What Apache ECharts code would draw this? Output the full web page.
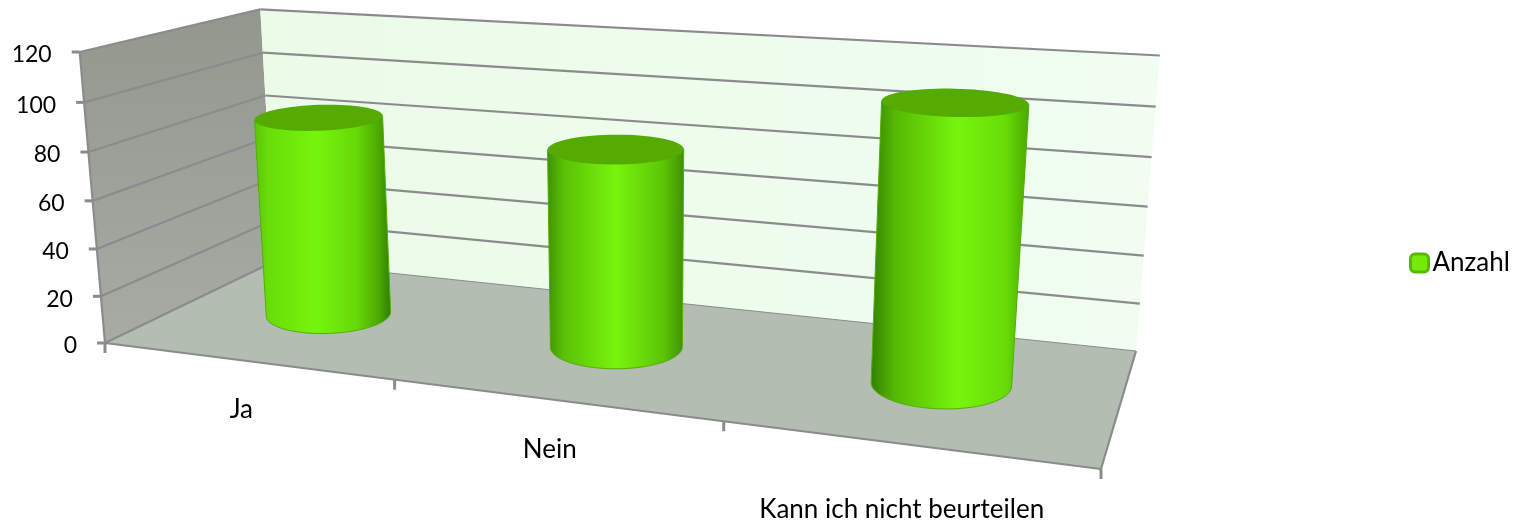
<!DOCTYPE html>
<html><head><meta charset="utf-8">
<style>html,body{margin:0;padding:0;background:#fff}#c{width:1523px;height:520px}</style>
<script src="https://cdn.jsdelivr.net/npm/echarts@6/dist/echarts.min.js"></script>
</head><body><div id="c"></div>
<script>
const categories = ['Ja', 'Nein', 'Kann ich nicht beurteilen'];
const values = [86, 82, 109];
const yTicks = [0, 20, 40, 60, 80, 100, 120];
const seriesName = 'Anzahl';

// ---- layout of the 3D box in the picture ----
const FONT = 'Lato';
const FL = [105, 343], FR = [1101, 469], BR = [1136, 351], BL = [275, 261];
const VP = [640, 6500], TOP_FL_Y = 52;
const RX = 0.072, RZ = 0.225, CZ = 0.5, TILT = 0.087, RX_FLATTEN = 0.18;
const LABEL_DX = -4, LABEL_DY = [49, 50, 65];
const SHADE = [
  [[0, '#5cc406'], [0.1, '#68dc08'], [0.45, '#76f50c'], [0.75, '#66d808'], [0.92, '#4aa600'], [1, '#2f7c00']],
  [[0, '#3f9000'], [0.12, '#5ac006'], [0.5, '#76f50c'], [0.85, '#5cc406'], [1, '#3f8f00']],
  [[0, '#338000'], [0.15, '#55b804'], [0.55, '#76f50c'], [0.85, '#68dc08'], [1, '#4aa600']]
];

function homography(p0, p1, p2, p3) {
  const dx1 = p1[0] - p2[0], dx2 = p3[0] - p2[0], sx = p0[0] - p1[0] + p2[0] - p3[0];
  const dy1 = p1[1] - p2[1], dy2 = p3[1] - p2[1], sy = p0[1] - p1[1] + p2[1] - p3[1];
  const den = dx1 * dy2 - dx2 * dy1;
  const g = (sx * dy2 - dx2 * sy) / den, h = (dx1 * sy - sx * dy1) / den;
  return { a: p1[0] - p0[0] + g * p1[0], b: p3[0] - p0[0] + h * p3[0], c: p0[0],
           d: p1[1] - p0[1] + g * p1[1], e: p3[1] - p0[1] + h * p3[1], f: p0[1], g, h };
}
const H = homography(FL, FR, BR, BL);
const S = (TOP_FL_Y - FL[1]) / (VP[1] - TOP_FL_Y);
function project(x, y, z) {
  const w = H.g * x + H.h * z + 1 + S * y;
  return [(H.a * x + H.b * z + H.c + S * y * VP[0]) / w,
          (H.d * x + H.e * z + H.f + S * y * VP[1]) / w];
}
function unit(params, api, cat, val) {
  const c = api.coord([cat, val]), r = params.coordSys;
  return [(c[0] - r.x) / r.width, (r.y + r.height - c[1]) / r.height];
}
const GREY = '#8b8b8d';
function line(a, b, w) {
  return { type: 'line', shape: { x1: a[0], y1: a[1], x2: b[0], y2: b[1] },
           style: { stroke: GREY, lineWidth: w || 2.2 }, silent: true };
}
function poly(pts, fill) {
  return { type: 'polygon', shape: { points: pts }, style: { fill }, silent: true };
}
function text(str, x, y, align, size) {
  return { type: 'text', silent: true,
           style: { text: str, x, y, align, verticalAlign: 'middle', fill: '#000',
                    fontFamily: FONT, fontSize: size } };
}
function renderBox(params, api) {
  const kids = [];
  const grad = (x0, y0, x1, y1, a, b) => new echarts.graphic.LinearGradient(x0, y0, x1, y1, [{ offset: 0, color: a }, { offset: 1, color: b }]);
  kids.push(poly([project(0,1,0), project(0,1,1), project(0,0,1), project(0,0,0)], grad(0,0,0,1,'#92988e','#a6aca3')));
  kids.push(poly([project(0,1,1), project(1,1,1), project(1,0,1), project(0,0,1)], grad(0,0,1,0,'#ebfbe8','#f0fdf0')));
  kids.push(poly([project(0,0,0), project(1,0,0), project(1,0,1), project(0,0,1)], '#b3bdb1'));
  yTicks.forEach(t => {
    const u = unit(params, api, 0, t)[1];
    if (t > 0) {
      kids.push(line(project(0,u,0), project(0,u,1)));
      kids.push(line(project(0,u,1), project(1,u,1)));
    }
    const p = project(0,u,0);
    kids.push(line([p[0]-8, p[1]], p, 3));
    kids.push(text(String(t), p[0]-28, p[1]+3, 'right', 23));
  });
  kids.push(line(project(0,0,0), project(0,0,1)));
  kids.push(line(project(0,0,1), project(1,0,1), 1));
  kids.push(line(project(0,1,0), project(0,0,0)));
  kids.push(line(project(0,0,0), project(1,0,0)));
  kids.push(line(project(1,0,0), project(1,0,1)));
  for (let i = 0; i <= categories.length; i++) {
    const p = project(i / categories.length, 0, 0);
    kids.push(line(p, [p[0], p[1] + 10], 3));
  }
  return { type: 'group', children: kids };
}
function ringAt(cx, cy, t) {
  const c = project(cx, cy, CZ);
  const rx = (project(cx + RX, cy, CZ)[0] - project(cx - RX, cy, CZ)[0]) / 2 * (1 - (cx - 0.5) * RX_FLATTEN);
  const ry = Math.abs(project(cx, cy, CZ + RZ)[1] - project(cx, cy, CZ - RZ)[1]) / 2;
  const tilt = TILT * (cx - 0.55);
  return [c[0] + rx * Math.cos(t), c[1] + tilt * rx * Math.cos(t) + ry * Math.sin(t)];
}
function renderCyl(params, api) {
  const i = api.value(0), v = api.value(1);
  const cx = unit(params, api, i, 0)[0], y1 = unit(params, api, i, v)[1];
  const top = [];
  for (let k = 0; k < 72; k++) top.push(ringAt(cx, y1, k / 72 * Math.PI * 2));
  const pts = [ringAt(cx, y1, Math.PI)];
  for (let k = 36; k >= 0; k--) pts.push(ringAt(cx, 0, k / 36 * Math.PI));
  pts.push(ringAt(cx, y1, 0));
  const kids = [
    { type: 'polygon', shape: { points: pts }, silent: true,
      style: { stroke: '#52b004', lineWidth: 1,
        fill: new echarts.graphic.LinearGradient(0, 0, 1, 0, SHADE[i].map(s => ({ offset: s[0], color: s[1] }))) } },
    poly(top, '#55ab00')
  ];
  const f = project(cx, 0, 0);
  kids.push(text(categories[i], f[0] + LABEL_DX, f[1] + LABEL_DY[i], 'center', 26));
  return { type: 'group', children: kids };
}
const chart = echarts.init(document.getElementById('c'), null, { renderer: 'canvas' });
chart.setOption({
  animation: false,
  backgroundColor: '#fff',
  grid: { left: 105, top: 52, width: 996, height: 291, show: false },
  xAxis: { type: 'category', data: categories, show: false },
  yAxis: { type: 'value', min: 0, max: 120, interval: 20, show: false },
  legend: { data: [seriesName], left: 1404, top: 245, orient: 'vertical', itemWidth: 18, itemHeight: 18,
    icon: 'roundRect',
    itemStyle: { color: '#76ea08', borderColor: '#5ab800', borderWidth: 3 },
    textStyle: { fontFamily: FONT, fontSize: 26, color: '#000', padding: [0,0,0,-1] } },
  series: [
    { type: 'custom', name: 'box', renderItem: renderBox, data: [[0, 0]], encode: { x: 0, y: 1 }, silent: true },
    { type: 'custom', name: seriesName, renderItem: renderCyl, data: values.map((v, i) => [i, v]), encode: { x: 0, y: 1 }, silent: true,
      itemStyle: { color: '#76ea08' } }
  ]
});
</script></body></html>
